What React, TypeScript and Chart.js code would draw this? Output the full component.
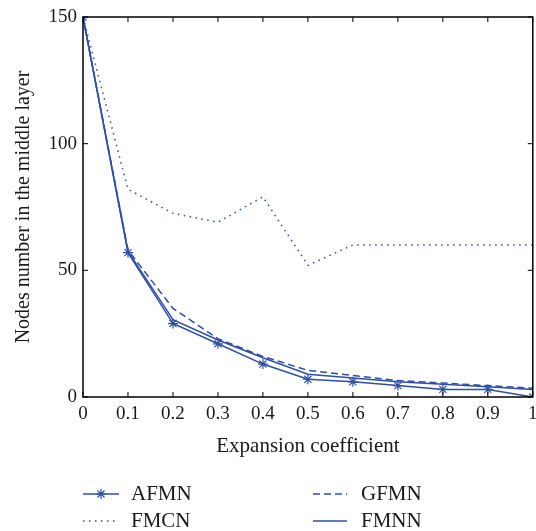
import React, { useEffect, useRef } from "react";
import { Chart, registerables } from "chart.js";

Chart.register(...registerables);

const xValues = [0, 0.1, 0.2, 0.3, 0.4, 0.5, 0.6, 0.7, 0.8, 0.9, 1];
const xTickLabels = ["0", "0.1", "0.2", "0.3", "0.4", "0.5", "0.6", "0.7", "0.8", "0.9", "1"];
const yTickLabels = ["0", "50", "100", "150"];

const afmn = [150, 57, 29, 21, 13, 7, 6, 4.5, 3, 3, 0];
const gfmn = [150, 58, 35, 23, 16, 10.5, 8.5, 6.5, 5.5, 4.5, 3.5];
const fmcn = [150, 82, 72.5, 69, 79, 52, 60, 60, 60, 60, 60];
const fmnn = [150, 57.5, 30.5, 22.5, 15.5, 9, 7.5, 6, 5, 4, 3];

const seriesNames = ["AFMN", "GFMN", "FMCN", "FMNN"];

const BLUE = "#2f4fa6";
const FONT = "'Liberation Serif', 'Times New Roman', serif";
const TEXT = "#1a1a1a";

const toPoints = (arr: number[]) => xValues.map((x, i) => ({ x, y: arr[i] }));

const boxPlugin = {
  id: "boxTicks",
  afterDatasetsDraw(chart: any) {
    const { ctx, chartArea, scales } = chart;
    const { left, right, top, bottom } = chartArea;
    ctx.save();
    ctx.strokeStyle = "#000";
    ctx.lineWidth = 1.5;
    ctx.strokeRect(left, top, right - left, bottom - top);
    ctx.lineWidth = 1;
    const tl = 5;
    ctx.beginPath();
    scales.x.ticks.forEach((t: any) => {
      const px = scales.x.getPixelForValue(t.value);
      ctx.moveTo(px, bottom);
      ctx.lineTo(px, bottom - tl);
      ctx.moveTo(px, top);
      ctx.lineTo(px, top + tl);
    });
    scales.y.ticks.forEach((t: any) => {
      const py = scales.y.getPixelForValue(t.value);
      ctx.moveTo(left, py);
      ctx.lineTo(left + tl, py);
      ctx.moveTo(right, py);
      ctx.lineTo(right - tl, py);
    });
    ctx.stroke();
    ctx.restore();
  },
};

const legendPlugin = {
  id: "customLegend",
  afterDraw(chart: any) {
    const { ctx } = chart;
    const datasets = chart.data.datasets;
    const cols = [
      { lineX0: 83, lineX1: 119, textX: 131 },
      { lineX0: 313, lineX1: 347, textX: 361 },
    ];
    const rows = [494, 521];
    const layoutPos = [
      [0, 0],
      [1, 0],
      [0, 1],
      [1, 1],
    ];
    ctx.save();
    datasets.forEach((ds: any, k: number) => {
      const [c, r] = layoutPos[k];
      const col = cols[c];
      const y = rows[r];
      ctx.strokeStyle = ds.borderColor;
      ctx.lineWidth = ds.borderWidth;
      ctx.setLineDash(ds.borderDash || []);
      ctx.beginPath();
      ctx.moveTo(col.lineX0, y);
      ctx.lineTo(col.lineX1, y);
      ctx.stroke();
      ctx.setLineDash([]);
      if (ds.pointRadius > 0) {
        const cx = (col.lineX0 + col.lineX1) / 2;
        const rr = ds.pointRadius;
        ctx.lineWidth = 1.2;
        ctx.beginPath();
        for (let a = 0; a < 4; a++) {
          const ang = (a * Math.PI) / 4;
          ctx.moveTo(cx - Math.cos(ang) * rr, y - Math.sin(ang) * rr);
          ctx.lineTo(cx + Math.cos(ang) * rr, y + Math.sin(ang) * rr);
        }
        ctx.stroke();
      }
      ctx.fillStyle = TEXT;
      ctx.font = `21px ${FONT}`;
      ctx.textBaseline = "middle";
      ctx.textAlign = "left";
      ctx.fillText(ds.label, col.textX, y);
    });
    ctx.restore();
  },
};

export default function App() {
  const canvasRef = useRef<HTMLCanvasElement | null>(null);

  useEffect(() => {
    if (!canvasRef.current) return;
    const chart = new Chart(canvasRef.current, {
      type: "line",
      data: {
        datasets: [
          {
            label: seriesNames[0],
            data: toPoints(afmn),
            borderColor: BLUE,
            backgroundColor: BLUE,
            borderWidth: 1.5,
            pointStyle: "star",
            pointRadius: 5,
            pointBorderWidth: 1.2,
            pointBorderColor: BLUE,
            fill: false,
            tension: 0,
          },
          {
            label: seriesNames[1],
            data: toPoints(gfmn),
            borderColor: BLUE,
            borderWidth: 1.5,
            borderDash: [7, 4],
            pointRadius: 0,
            fill: false,
            tension: 0,
          },
          {
            label: seriesNames[2],
            data: toPoints(fmcn),
            borderColor: BLUE,
            borderWidth: 1.5,
            borderDash: [1.5, 4.5],
            pointRadius: 0,
            fill: false,
            tension: 0,
          },
          {
            label: seriesNames[3],
            data: toPoints(fmnn),
            borderColor: BLUE,
            borderWidth: 1.5,
            pointRadius: 0,
            fill: false,
            tension: 0,
          },
        ] as any,
      },
      options: {
        animation: false,
        responsive: false,
        devicePixelRatio: 1,
        layout: { padding: { left: 0, right: 0, top: 17, bottom: 72 } },
        plugins: {
          legend: { display: false },
          tooltip: { enabled: false },
        },
        scales: {
          x: {
            type: "linear",
            min: 0,
            max: 1,
            afterFit: (s: any) => {
              s.height = 62;
              s.paddingLeft = 0;
              s.paddingRight = 0;
            },
            ticks: {
              stepSize: 0.1,
              padding: 6,
              color: TEXT,
              font: { family: FONT, size: 19 },
              maxRotation: 0,
              autoSkip: false,
              callback: (_v: any, i: number) => xTickLabels[i],
            },
            grid: { display: false, drawTicks: false },
            border: { display: false },
            title: {
              display: true,
              text: "Expansion coefficient",
              color: TEXT,
              font: { family: FONT, size: 21 },
              padding: { top: 0, bottom: 0 },
            },
          },
          y: {
            type: "linear",
            min: 0,
            max: 150,
            afterFit: (s: any) => {
              s.width = 83;
              s.paddingTop = 0;
              s.paddingBottom = 0;
            },
            ticks: {
              stepSize: 50,
              padding: 6,
              color: TEXT,
              font: { family: FONT, size: 19 },
              callback: (_v: any, i: number) => yTickLabels[i],
            },
            grid: { display: false, drawTicks: false },
            border: { display: false },
            title: {
              display: true,
              text: "Nodes number in the middle layer",
              color: TEXT,
              font: { family: FONT, size: 20 },
              padding: { top: 12, bottom: 0 },
            },
          },
        },
      } as any,
      plugins: [boxPlugin, legendPlugin],
    });
    return () => chart.destroy();
  }, []);

  return (
    <div style={{ position: "absolute", left: 0, top: 0, width: 536, height: 531, overflow: "hidden", background: "#fff" }}>
      <canvas ref={canvasRef} width={539} height={531} style={{ display: "block" }} />
    </div>
  );
}
